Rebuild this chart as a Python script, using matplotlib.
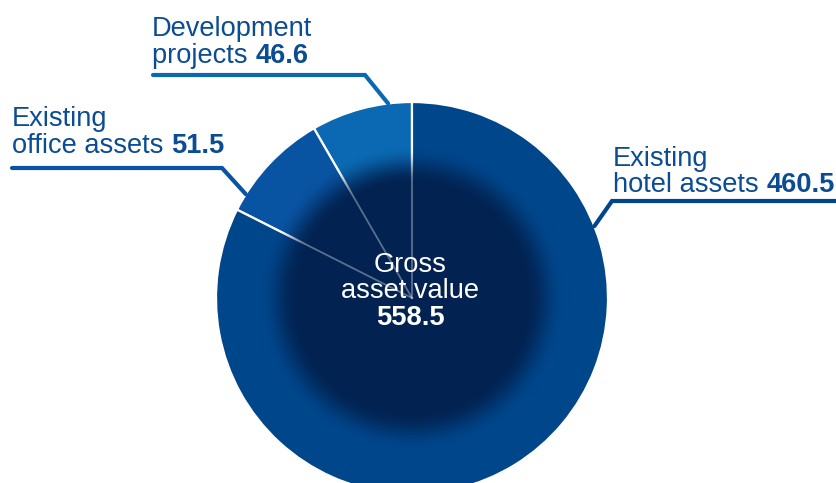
import matplotlib.pyplot as plt
import numpy as np

# Data
labels = ["Development\nprojects", "Existing\noffice assets", "Existing\nhotel assets"]
values = [46.6, 51.5, 460.5]
value_text = ["46.6", "51.5", "460.5"]
centre_lines = ["Gross", "asset value"]
total_label = "558.5"
colors = ["#0a69b2", "#0954a2", "#00468b"]

W, H = 836, 483
CX, CY, R = 412, 298, 196
TEXT_COLOR = "#0b4c93"
FONT = "Liberation Sans"
FS = 19.6

fig = plt.figure(figsize=(W / 100, H / 100), dpi=100)
ax = fig.add_axes([0, 0, 1, 1])

# pie (y axis is inverted -> clockwise in data is counter-clockwise on screen)
wedges, _ = ax.pie(values, colors=colors, startangle=-90, counterclock=False,
                   center=(CX, CY), radius=R,
                   wedgeprops=dict(edgecolor="white", linewidth=1.6))

ax.set_xlim(0, W)
ax.set_ylim(H, 0)
ax.set_aspect("equal")
ax.axis("off")

# dark radial shading in the middle
yy, xx = np.mgrid[0:H, 0:W] + 0.5
d = np.hypot(xx - CX, yy - CY)
r_in, r_out = 115, 152
t = np.clip((r_out - d) / (r_out - r_in), 0, 1)
alpha = t * t * (3 - 2 * t)
img = np.zeros((H, W, 4))
img[..., 0] = 0x02 / 255
img[..., 1] = 0x23 / 255
img[..., 2] = 0x52 / 255
img[..., 3] = alpha
ax.imshow(img, extent=(0, W, H, 0), zorder=3, interpolation="bilinear")

# faint divider lines through the dark centre
bounds = np.cumsum([0] + values) / sum(values) * 360
for b in bounds[:3]:
    a = np.deg2rad(90 + b)
    ax.plot([CX, CX + 155 * np.cos(a)], [CY, CY - 155 * np.sin(a)],
            color="white", alpha=0.35, lw=1.3, zorder=4)

# centre text
for k, line in enumerate(centre_lines):
    ax.text(CX - 2, 272 + 26.5 * k, line, color="white", fontsize=FS, family=FONT,
            ha="center", va="baseline", zorder=5)
ax.text(CX - 2, 325, total_label, color="white", fontsize=FS, family=FONT,
        fontweight="bold", ha="center", va="baseline", zorder=5)

# leader lines and labels (angle on the rim, elbow, end x, text x, baseline of 2nd line)
leaders = [
    (97, (365, 75), 153, 152, 63),
    (148, (222, 168), 12, 12, 153),
    (21.5, (612, 201), W + 5, 613, 192),
]
for i, (ang, elbow, xend, tx, base) in enumerate(leaders):
    a = np.deg2rad(ang)
    sx, sy = CX + R * np.cos(a), CY - R * np.sin(a)
    ax.plot([sx, elbow[0], xend], [sy, elbow[1], elbow[1]], color=colors[i],
            lw=3.0, solid_capstyle="round", solid_joinstyle="miter", zorder=2)
    first, second = labels[i].split("\n")
    ax.text(tx, base - 26.5, first, color=TEXT_COLOR, fontsize=FS, family=FONT,
            ha="left", va="baseline")
    t2 = ax.text(tx, base, second + " ", color=TEXT_COLOR, fontsize=FS, family=FONT,
                 ha="left", va="baseline")
    ax.annotate(value_text[i], xy=(1, 0), xycoords=t2, xytext=(0, 0),
                textcoords="offset points", color=TEXT_COLOR, fontsize=FS,
                family=FONT, fontweight="bold", ha="left", va="bottom")

fig.savefig("out.png", dpi=100)
